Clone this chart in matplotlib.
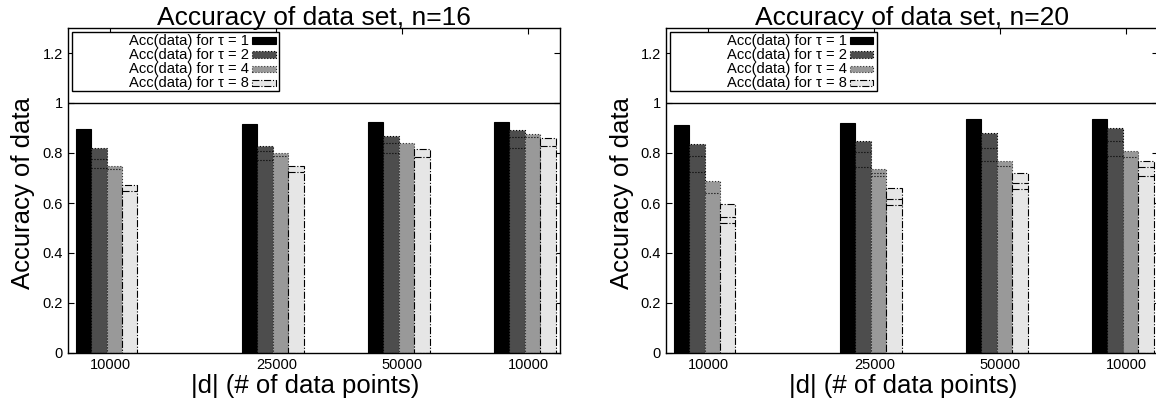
import matplotlib
matplotlib.use("Agg")
import matplotlib.pyplot as plt
from matplotlib.patches import Rectangle

plt.rcParams['font.family'] = ['Liberation Sans', 'DejaVu Sans']

# ---------------- data ----------------
categories = ["10000", "25000", "50000", "10000"]
group_pos = [0.0, 1.32, 2.32, 3.32]
taus = [1, 2, 4, 8]
y_ticks = [0, 0.2, 0.4, 0.6, 0.8, 1.0, 1.2]

acc_n16_tau1 = [0.895, 0.915, 0.925, 0.923]
acc_n16_tau2 = [0.821, 0.828, 0.870, 0.893]
acc_n16_tau4 = [0.747, 0.801, 0.842, 0.875]
acc_n16_tau8 = [0.672, 0.749, 0.815, 0.860]

acc_n20_tau1 = [0.912, 0.921, 0.936, 0.935]
acc_n20_tau2 = [0.836, 0.849, 0.879, 0.899]
acc_n20_tau4 = [0.687, 0.737, 0.768, 0.808]
acc_n20_tau8 = [0.595, 0.661, 0.719, 0.769]

# lower overlapping outlines visible inside the bars
inner_n16_tau1 = [[], [], [], []]
inner_n16_tau2 = [[0.775, 0.739], [0.808, 0.772], [0.839, 0.799], [0.865, 0.819]]
inner_n16_tau4 = [[0.735], [0.790], [], [0.866]]
inner_n16_tau8 = [[0.648], [0.725], [0.785], [0.829]]

inner_n20_tau1 = [[], [], [], []]
inner_n20_tau2 = [[0.789, 0.723], [0.805, 0.743], [0.819, 0.768], [0.849, 0.788]]
inner_n20_tau4 = [[0.641], [0.721, 0.708], [0.748], [0.785]]
inner_n20_tau8 = [[0.544, 0.521], [0.617, 0.592], [0.679, 0.656], [0.745, 0.708]]

panels = [
    ("Accuracy of data set, n=16",
     [acc_n16_tau1, acc_n16_tau2, acc_n16_tau4, acc_n16_tau8],
     [inner_n16_tau1, inner_n16_tau2, inner_n16_tau4, inner_n16_tau8]),
    ("Accuracy of data set, n=20",
     [acc_n20_tau1, acc_n20_tau2, acc_n20_tau4, acc_n20_tau8],
     [inner_n20_tau1, inner_n20_tau2, inner_n20_tau4, inner_n20_tau8]),
]

# ---------------- style ----------------
fills = ['#000000', '#4d4d4d', '#999999', '#e6e6e6']
edge_colors = ['#000000', '#000000', '#333333', '#000000']
edge_styles = ['-', ':', ':', '-.']
bar_w = 0.122
W, H = 1156, 398
fig = plt.figure(figsize=(W / 100, H / 100), dpi=100)

ax_px = [(68, 28, 492, 325), (666, 28, 492, 325)]
ylabel_x = [23.5, 621.5]
xlabel_x = [305, 903]

for i, (title, series, inners) in enumerate(panels):
    x0, top, w, h = ax_px[i]
    ax = fig.add_axes([x0 / W, (H - top - h) / H, w / W, h / H])
    for k in range(4):
        offs = (k - 1.5) * bar_w
        xs = [g + offs for g in group_pos]
        ax.bar(xs, series[k], width=bar_w, color=fills[k], edgecolor=edge_colors[k],
               linewidth=0.8, linestyle=edge_styles[k], zorder=2)
        for gi, levels in enumerate(inners[k]):
            for lv in levels:
                ax.hlines(lv, xs[gi] - bar_w / 2, xs[gi] + bar_w / 2, colors='black',
                          linestyles=edge_styles[k], linewidth=0.8, zorder=3)
    ax.axhline(1.0, color='black', linewidth=1.0, zorder=1)
    ax.set_ylim(0, 1.3)
    ax.set_xlim(-0.3056, -0.3056 + 492 / 126)
    ax.set_yticks(y_ticks)
    ax.set_yticklabels(['%g' % v for v in y_ticks])
    ax.set_xticks([g + 0.028 for g in group_pos])
    ax.set_xticklabels(categories)
    ax.tick_params(direction='in', length=4, top=True, right=True,
                   labelsize=10.5, pad=3.6, width=0.8)
    for s in ax.spines.values():
        s.set_linewidth(1.0)
    ax.text(0.5, 1 + 3 / 325, title, transform=ax.transAxes, ha='center',
            va='baseline', fontsize=19)

    # legend (gnuplot style: right aligned text, swatch at right)
    box = Rectangle((4 / 492, (353 - 91) / 325), 207 / 492,
                    (91 - 31.7) / 325, transform=ax.transAxes, facecolor='white',
                    edgecolor='black', linewidth=1.0, zorder=5)
    ax.add_patch(box)
    row_px = [40.7, 54.5, 69.0, 83.3]
    for k in range(4):
        yf = (353 - row_px[k]) / 325
        ax.text(181 / 492, yf, "Acc(data) for \u03c4 = %d" % taus[k], transform=ax.transAxes,
                ha='right', va='center', fontsize=10.6, zorder=6)
        ax.add_patch(Rectangle((184 / 492, yf - 3 / 325), 23.5 / 492, 6.5 / 325,
                               transform=ax.transAxes, facecolor=fills[k],
                               edgecolor=edge_colors[k], linewidth=0.8,
                               linestyle=edge_styles[k], zorder=6))

    fig.text(ylabel_x[i] / W, 1 - 193 / H, "Accuracy of data", rotation=90,
             ha='center', va='center', fontsize=18.5)
    fig.text(xlabel_x[i] / W, (H - 393) / H, "|d| (# of data points)",
             ha='center', va='baseline', fontsize=18.5)

fig.savefig("out.png", dpi=100)
